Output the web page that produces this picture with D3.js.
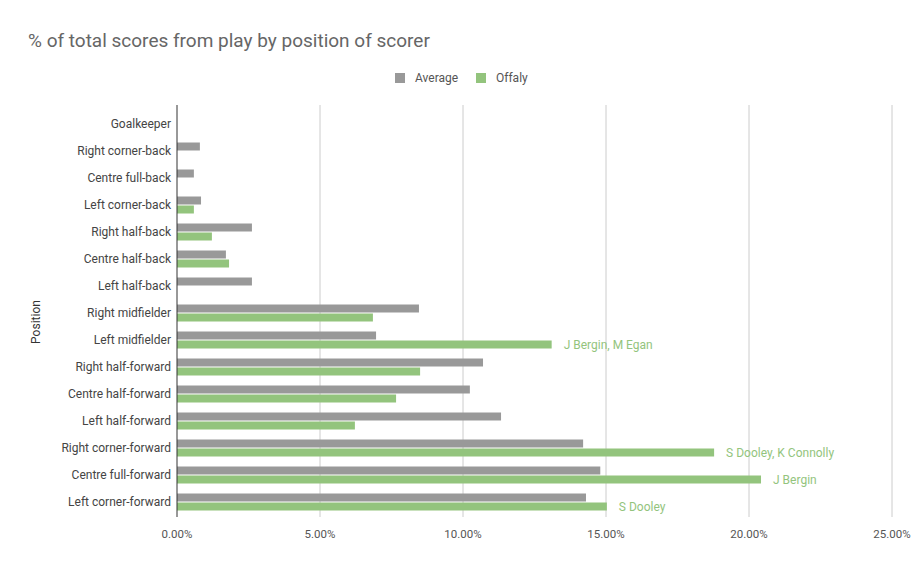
<!DOCTYPE html>
<html><head><meta charset="utf-8">
<script src="https://cdn.jsdelivr.net/npm/d3@7"></script>
<style>body{margin:0;background:#fff;font-family:Roboto,"Open Sans",sans-serif}</style>
</head><body><svg id="c" width="921" height="569"></svg>
<script>
const categories=["Goalkeeper","Right corner-back","Centre full-back","Left corner-back","Right half-back","Centre half-back","Left half-back","Right midfielder","Left midfielder","Right half-forward","Centre half-forward","Left half-forward","Right corner-forward","Centre full-forward","Left corner-forward"];
const average=[0,0.80,0.59,0.84,2.62,1.71,2.62,8.46,6.96,10.70,10.24,11.33,14.2,14.8,14.3];
const offaly=[0,0,0,0.59,1.22,1.82,0,6.85,13.1,8.5,7.66,6.22,18.78,20.42,15.03];
const offalyLabels=["","","","","","","","","J Bergin, M Egan","","","","S Dooley, K Connolly","J Bergin","S Dooley"];
const xTicks=[0,5,10,15,20,25];
const svg=d3.select("#c");
const x=d3.scaleLinear().domain([0,25]).range([177,892]);
const y=d3.scaleBand().domain(categories).range([110.5,515.5]);
svg.append("text").attr("x",28).attr("y",47).attr("font-size",19).attr("fill","#666").text("% of total scores from play by position of scorer");
// grid
svg.selectAll(".g").data(xTicks.slice(1)).join("line").attr("x1",d=>x(d)).attr("x2",d=>x(d)).attr("y1",105).attr("y2",517).attr("stroke","#ccc");
svg.selectAll(".xt").data(xTicks).join("text").attr("x",d=>x(d)).attr("y",538).attr("text-anchor","middle").attr("font-size",11.5).attr("fill","#555").text(d=>d.toFixed(2)+"%");
svg.selectAll(".yl").data(categories).join("text").attr("x",171).attr("y",d=>y(d)+y.bandwidth()/2+4).attr("text-anchor","end").attr("font-size",12).attr("fill","#444").text(d=>d);
svg.selectAll(".ba").data(average).join("rect").attr("x",x(0)).attr("y",(d,i)=>y(categories[i])+y.bandwidth()/2-8.5).attr("width",d=>x(d)-x(0)).attr("height",8).attr("fill","#999");
svg.selectAll(".bo").data(offaly).join("rect").attr("x",x(0)).attr("y",(d,i)=>y(categories[i])+y.bandwidth()/2+0.5).attr("width",d=>x(d)-x(0)).attr("height",8).attr("fill","#93c47d");
svg.selectAll(".dl").data(offalyLabels).join("text").attr("x",(d,i)=>x(offaly[i])+12).attr("y",(d,i)=>y(categories[i])+y.bandwidth()/2+9).attr("font-size",12).attr("fill","#93c47d").text(d=>d);
svg.append("line").attr("x1",177).attr("x2",177).attr("y1",105).attr("y2",517).attr("stroke","#333");
svg.append("text").attr("transform","translate(40,322) rotate(-90)").attr("text-anchor","middle").attr("font-size",12).attr("fill","#333").text("Position");
// legend
const lg=[["Average","#999",395],["Offaly","#93c47d",476]];
lg.forEach(([t,c,lx])=>{svg.append("rect").attr("x",lx).attr("y",73).attr("width",10).attr("height",10).attr("fill",c);
svg.append("text").attr("x",lx+20).attr("y",82).attr("font-size",12).attr("fill","#555").text(t);});
</script></body></html>
